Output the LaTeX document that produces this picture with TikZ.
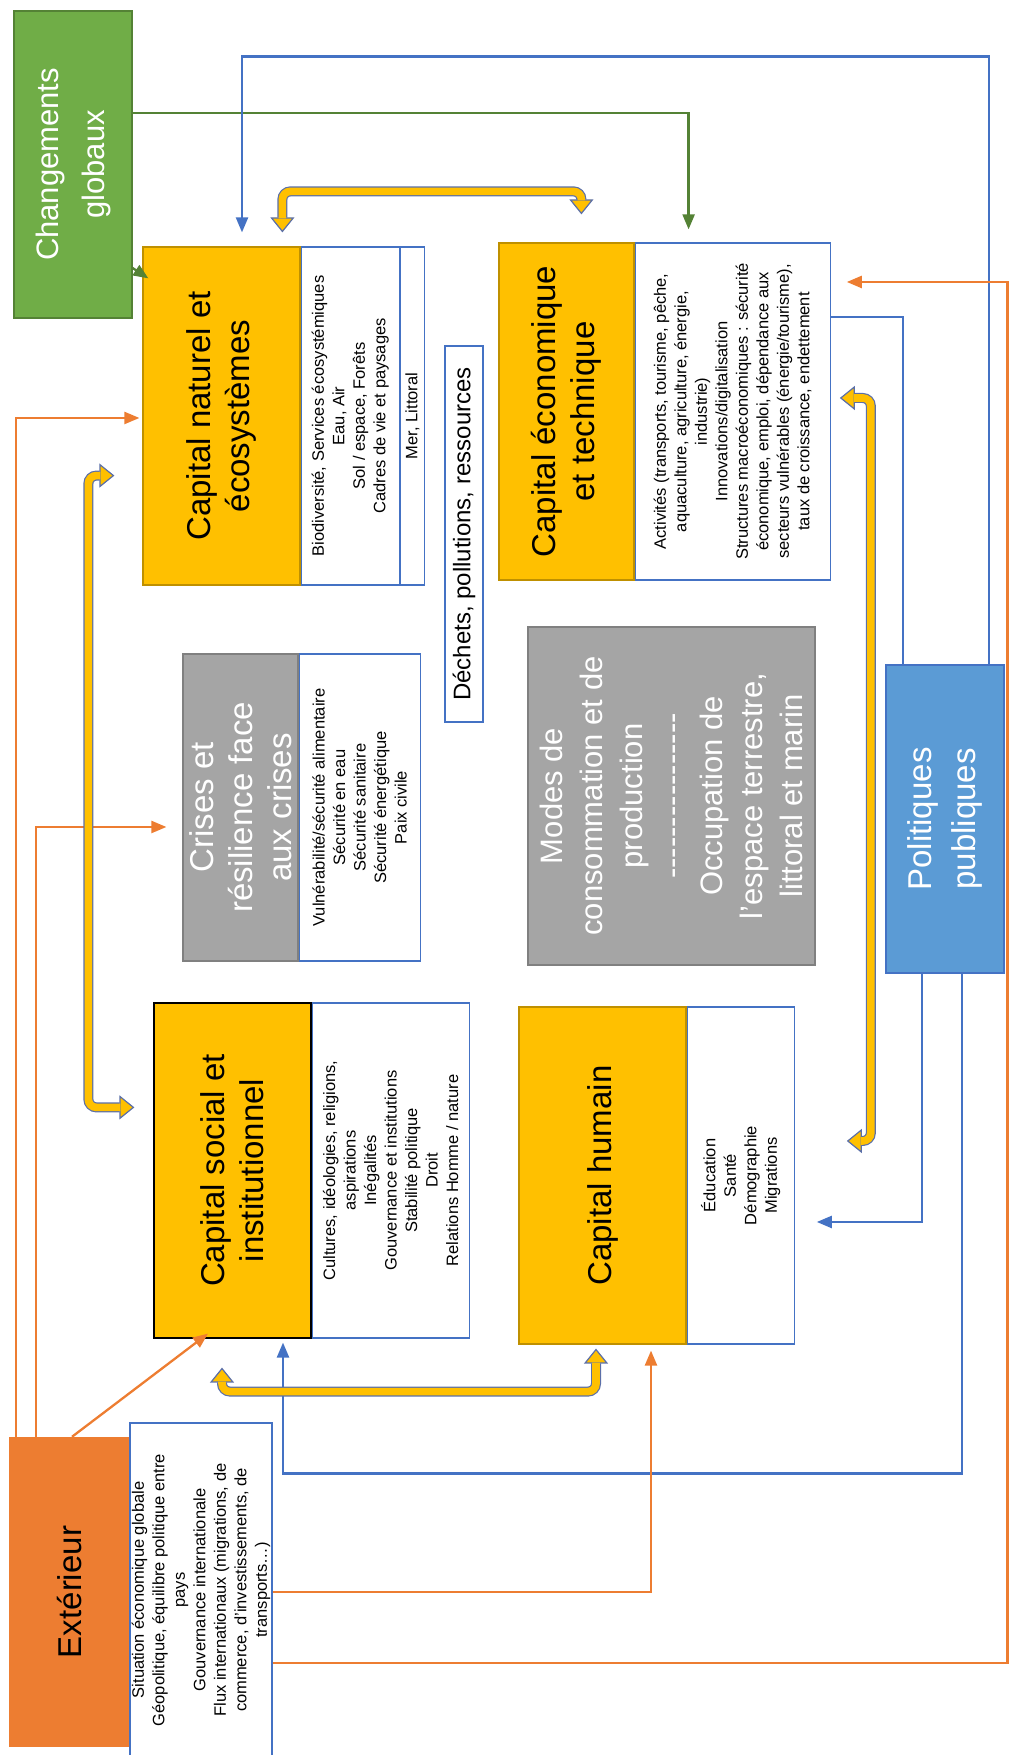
\documentclass[tikz,border=0pt]{standalone}
\usepackage{fontspec}
\setmainfont{Liberation Sans}
\usepackage{xcolor}
\usetikzlibrary{arrows.meta,calc}
\definecolor{capyellow}{HTML}{FFC000}
\definecolor{capedge}{HTML}{BF9000}
\definecolor{chggreen}{HTML}{70AD47}
\definecolor{chgline}{HTML}{548235}
\definecolor{extorange}{HTML}{ED7D31}
\definecolor{polblue}{HTML}{5B9BD5}
\definecolor{polline}{HTML}{4472C4}
\definecolor{crigray}{HTML}{A5A5A5}
\definecolor{bandline}{HTML}{5B6FA8}
\newcommand{\titlefont}{\fontsize{33}{39}\selectfont}
\newcommand{\listfont}{\fontsize{16.5}{20.5}\selectfont}
\newcommand{\dashrow}{\makebox[166pt]{\xleaders\hbox{-}\hfill}}
\tikzset{
	capbox/.style={draw=capedge, fill=capyellow, line width=1.2pt, inner sep=0pt, align=center, font=\titlefont},
	listbox/.style={draw=polline, fill=white, line width=1.2pt, inner sep=0pt, align=center, font=\listfont},
	graybox/.style={draw=gray, fill=crigray, text=white, line width=1.2pt, inner sep=0pt, align=center, font=\titlefont},
	oarrow/.style={draw=extorange, line width=2.3pt, -{Triangle[length=15pt,width=12pt]}},
	barrow/.style={draw=polline, line width=2.3pt, -{Triangle[length=15pt,width=12pt]}},
	garrow/.style={draw=chgline, line width=2.3pt, -{Triangle[length=15pt,width=12pt]}},
	yband/.style={draw=capyellow, line width=7.6pt, rounded corners=8pt, shorten <=14pt, shorten >=14pt,
			preaction={draw=bandline, line width=10pt, shorten <=0pt, shorten >=0pt,
					{Triangle[length=15pt,width=24pt,fill=capyellow,line width=1.2pt]}-{Triangle[length=15pt,width=24pt,fill=capyellow,line width=1.2pt]}}}
}

\begin{document}
\begin{tikzpicture}[x=1pt, y=-1pt, rotate=90, transform shape]
	\useasboundingbox (0,0) rectangle (1755,1010);

	\node[draw=chgline, fill=chggreen, text=white, line width=1.2pt, inner sep=0pt, align=center, font=\fontsize{31}{46}\selectfont, minimum width=307pt, minimum height=118pt] (chg) at (1590.5,73) {Changements\\globaux};

	\node[capbox, minimum width=338pt, minimum height=157pt] (nat) at (1339,221.5) {Capital naturel et\\écosystèmes};
	\node[listbox, anchor=north west, minimum width=338pt, minimum height=98pt] (nattxt) at (nat.south west) {Biodiversité, Services écosystémiques\\Eau, Air\\Sol / espace, Forêts\\Cadres de vie et paysages};
	\node[listbox, anchor=north west, minimum width=338pt, minimum height=24pt] (natmer) at (nattxt.south west) {Mer, Littoral};

	\node[capbox, minimum width=337pt, minimum height=135pt] (econ) at (1343.5,566.5) {Capital économique\\et technique};
	\node[listbox, anchor=north west, minimum width=337pt, minimum height=195pt] (ecotxt) at (econ.south west) {Activités (transports, tourisme, pêche,\\aquaculture, agriculture, énergie,\\industrie)\\Innovations/digitalisation\\Structures macroéconomiques : sécurité\\économique, emploi, dépendance aux\\secteurs vulnérables (énergie/tourisme),\\taux de croissance, endettement};

	\node[listbox, font=\fontsize{24}{28}\selectfont, minimum width=376pt, minimum height=38pt] (dechets) at (1221,464) {Déchets, pollutions, ressources};

	\node[graybox, minimum width=307pt, minimum height=115pt] (crises) at (947.5,240.5) {Crises et\\résilience face\\aux crises};
	\node[listbox, anchor=north west, minimum width=307pt, minimum height=121pt] (critxt) at (crises.south west) {Vulnérabilité/sécurité alimentaire\\Sécurité en eau\\Sécurité sanitaire\\Sécurité énergétique\\Paix civile};

	\node[graybox, font=\fontsize{31}{40}\selectfont, minimum width=338pt, minimum height=287pt] (modes) at (959,671.5) {Modes de\\consommation et de\\production\\\dashrow\\Occupation de\\l'espace terrestre,\\littoral et marin};

	\node[draw=polline, fill=polblue, text=white, line width=1.2pt, inner sep=0pt, align=center, font=\fontsize{33}{44}\selectfont, minimum width=308pt, minimum height=118pt] (pol) at (936,945) {Politiques\\publiques};

	\node[capbox, draw=black, minimum width=335pt, minimum height=157pt] (social) at (584.5,232.5) {Capital social et\\institutionnel};
	\node[listbox, anchor=north west, minimum width=335pt, minimum height=157pt] (soctxt) at (social.south west) {Cultures, idéologies, religions,\\aspirations\\Inégalités\\Gouvernance et institutions\\Stabilité politique\\Droit\\Relations Homme / nature};

	\node[capbox, minimum width=337pt, minimum height=167pt] (human) at (579.5,602.5) {Capital humain};
	\node[listbox, anchor=north west, minimum width=337pt, minimum height=107pt] (humtxt) at (human.south west) {Éducation\\Santé\\Démographie\\Migrations};

	\node[fill=extorange, inner sep=0pt, font=\titlefont, minimum width=310pt, minimum height=121pt] (ext) at (163,69.5) {Extérieur};
	\node[listbox, minimum width=334pt, minimum height=142pt] (exttxt) at (165,201) {Situation économique globale\\Géopolitique, équilibre politique entre\\pays\\Gouvernance internationale\\Flux internationaux (migrations, de\\commerce, d'investissements, de\\transports…)};

	\draw[garrow] ($(chg.south)+(51.5,0)$) |- ($(ecotxt.north east)+(13,54)$);
	\draw[garrow] ($(chg.south)+(-103.5,0)$) -- ($(nat.north east)+(-32,6)$);

	\draw[barrow] ($(pol.east)+(0,44)$) -- ++(608,0) |- ($(nat.east)+(14,20.5)$);
	\draw[polline, line width=2.3pt] ($(ecotxt.south)+(94.5,0)$) |- ($(pol.east)+(0,-42)$);
	\draw[barrow] ($(pol.west)+(0,-23)$) -| ($(humtxt.south)+(-46.5,22)$);
	\draw[barrow] ($(pol.west)+(0,17)$) -- ++(-500,0) |- ($(social.west)+(-4,50.5)$);

	\draw[oarrow] ($(ext.north east)+(0,7)$) -| ($(nat.north)+(-2,-3)$);
	\draw[oarrow] ($(ext.north east)+(0,27)$) -| ($(crises.north)+(-19.5,-16)$);
	\draw[oarrow] ($(ext.east)+(0,2.5)$) -- ($(social.west)+(5,-24.5)$);
	\draw[oarrow] ($(exttxt.south)+(-2,0)$) |- ($(human.west)+(-6,48.5)$);
	\draw[oarrow] ($(exttxt.south)+(-73,0)$) -- ++(0,735) -| ($(ecotxt.south)+(129.5,16)$);

	\draw[yband] ($(nat.north east)+(14,140)$) -- ++(41,0) |- ($(econ.north east)+(28,83)$);
	\draw[yband] ($(nat.north west)+(110,-28)$) -- ++(0,-26) -| ($(social.north east)+(-105,-19)$);
	\draw[yband] ($(social.west)+(-29,-10.5)$) -- ++(-24,0) |- ($(human.west)+(-4,-6.5)$);
	\draw[yband] ($(ecotxt.south)+(13.5,9)$) -- ++(0,31) -| ($(humtxt.south)+(34.5,52)$);
\end{tikzpicture}
\end{document}
